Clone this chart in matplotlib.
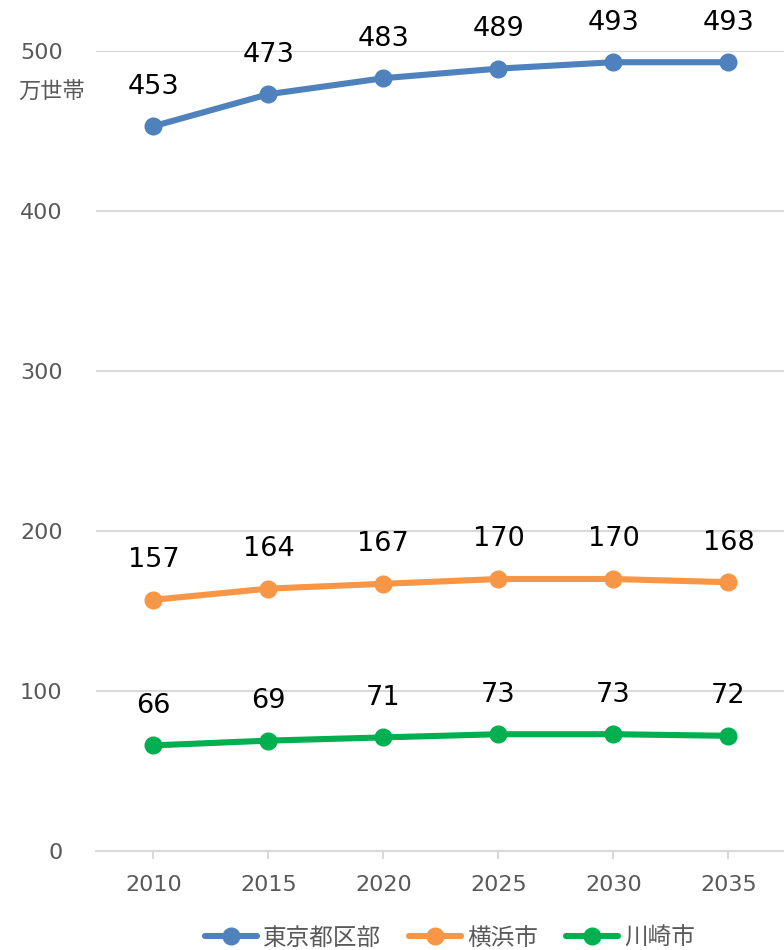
import matplotlib
matplotlib.use("Agg")
import matplotlib.pyplot as plt

plt.rcParams['font.family'] = ['DejaVu Sans', 'Noto Sans CJK JP']

years = ["2010", "2015", "2020", "2025", "2030", "2035"]
tokyo = [453, 473, 483, 489, 493, 493]
yokohama = [157, 164, 167, 170, 170, 168]
kawasaki = [66, 69, 71, 73, 73, 72]
series_names = ["東京都区部", "横浜市", "川崎市"]
colors = ["#4F81BD", "#F79646", "#00B050"]
yticks = [0, 100, 200, 300, 400, 500]
unit_label = "万世帯"

fig = plt.figure(figsize=(7.84, 9.5), dpi=100)
ax = fig.add_axes([0.1224, 0.1042, 0.88, 0.8421])

x = list(range(len(years)))
handles = []
for vals, name, c in zip([tokyo, yokohama, kawasaki], series_names, colors):
    h, = ax.plot(x, vals, color=c, lw=4.4, marker='o', ms=12, label=name,
                 solid_capstyle='round', clip_on=False, zorder=3)
    handles.append(h)
    for xi, v in zip(x, vals):
        ax.annotate(str(v), (xi, v), xytext=(0, 28.5), textcoords='offset points',
                    ha='center', va='center', fontsize=19.5, color='black',
                    annotation_clip=False)

ax.set_xlim(-0.5, 5.5)
ax.set_ylim(0, 500)
ax.set_yticks(yticks)
ax.set_yticklabels([str(t) for t in yticks])
ax.set_xticks(x)
ax.set_xticklabels(years)
ax.grid(axis='y', color='#D9D9D9', lw=1.5)
ax.set_axisbelow(True)
for s in ['top', 'right', 'left']:
    ax.spines[s].set_visible(False)
ax.spines['bottom'].set_color('#D9D9D9')
ax.spines['bottom'].set_linewidth(1.5)
ax.tick_params(axis='y', length=0, pad=24, labelsize=16, labelcolor='#595959')
ax.tick_params(axis='x', length=6, width=1.5, color='#D9D9D9', pad=11,
               labelsize=16, labelcolor='#595959')

fig.text(52/784, 1 - 92/950, unit_label, ha='center', va='center',
         fontsize=16, color='#595959', family=['Noto Sans CJK JP', 'DejaVu Sans'])

fig.legend(handles=handles, loc='center', bbox_to_anchor=(450/784, 1 - 938/950),
           ncol=3, frameon=False, handlelength=2.2,
           columnspacing=1.2, handletextpad=0.25, labelcolor='#595959',
           prop={'family': ['Noto Sans CJK JP', 'DejaVu Sans'], 'size': 17})

fig.savefig("out.png", dpi=100)
